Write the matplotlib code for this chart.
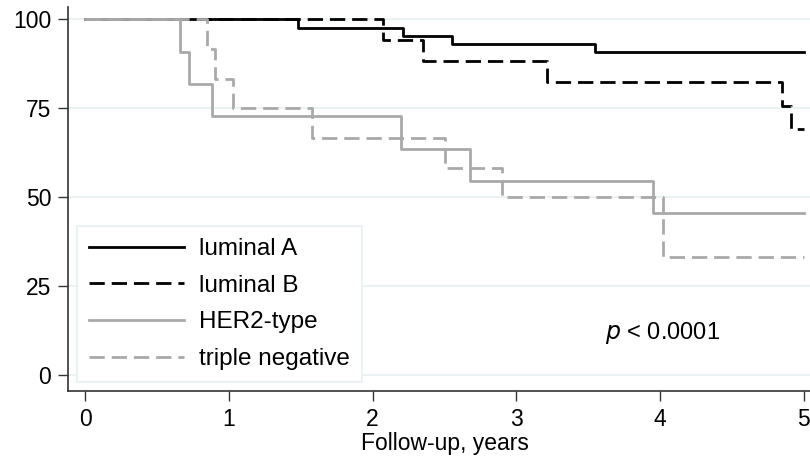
import matplotlib.pyplot as plt

plt.rcParams['font.family'] = ['Liberation Sans', 'DejaVu Sans']

# Kaplan-Meier step data (years, % surviving)
lumA_t = [0, 1.48, 2.21, 2.55, 3.55, 5.0]
lumA_s = [100, 97.6, 95.3, 93.0, 90.7, 90.7]

lumB_t = [0, 2.07, 2.35, 3.21, 4.85, 4.91, 5.0]
lumB_s = [100, 94.1, 88.2, 82.4, 75.7, 69.0, 69.0]

her2_t = [0, 0.66, 0.72, 0.88, 2.20, 2.68, 3.95, 5.0]
her2_s = [100, 90.9, 81.8, 72.7, 63.6, 54.5, 45.5, 45.5]

tn_t = [0, 0.85, 0.90, 1.03, 1.58, 2.50, 2.90, 4.02, 5.0]
tn_s = [100, 91.7, 83.3, 75.0, 66.7, 58.3, 50.0, 33.3, 33.3]

labels = ['luminal A', 'luminal B', 'HER2-type', 'triple negative']
yticks = [0, 25, 50, 75, 100]
xticks = [0, 1, 2, 3, 4, 5]

grey = '#a9a9a9'

fig = plt.figure(figsize=(8.1, 4.7), dpi=100)
ax = fig.add_axes([0.084, 0.168, 0.9296, 0.817])

for y in yticks:
    ax.axhline(y, color='#e8f0f1', lw=1.2, zorder=0)

ax.step(lumA_t, lumA_s, where='post', color='black', lw=2, label=labels[0])
ax.step(lumB_t, lumB_s, where='post', color='black', lw=2, dashes=(5.5, 2.5), label=labels[1])
ax.step(her2_t, her2_s, where='post', color=grey, lw=2, label=labels[2])
ax.step(tn_t, tn_s, where='post', color=grey, lw=2, dashes=(5.5, 2.5), label=labels[3])

ax.set_xlim(-0.12, 5.12)
ax.set_ylim(-4.5, 103.4)
ax.set_xticks(xticks)
ax.set_yticks(yticks)
ax.tick_params(labelsize=16.5, length=7, width=1, color='#333333', pad=5)
for s in ['top', 'right']:
    ax.spines[s].set_visible(False)
for s in ['left', 'bottom']:
    ax.spines[s].set_color('#333333')
    ax.spines[s].set_linewidth(1.2)

ax.set_xlabel('Follow-up, years', fontsize=16.5, labelpad=1)

ax.text(3.62, 11.8, r'$p$ < 0.0001', fontsize=17, va='center', ha='left')

leg = ax.legend(loc='lower left', bbox_to_anchor=(0.012, 0.023), borderaxespad=0,
                fontsize=17.5, handlelength=3.9, handletextpad=0.6, labelspacing=0.6,
                borderpad=0.5, fancybox=False, framealpha=1, edgecolor='#e8f0f1')
leg.get_frame().set_linewidth(1.2)

fig.savefig('out.png', dpi=100)
